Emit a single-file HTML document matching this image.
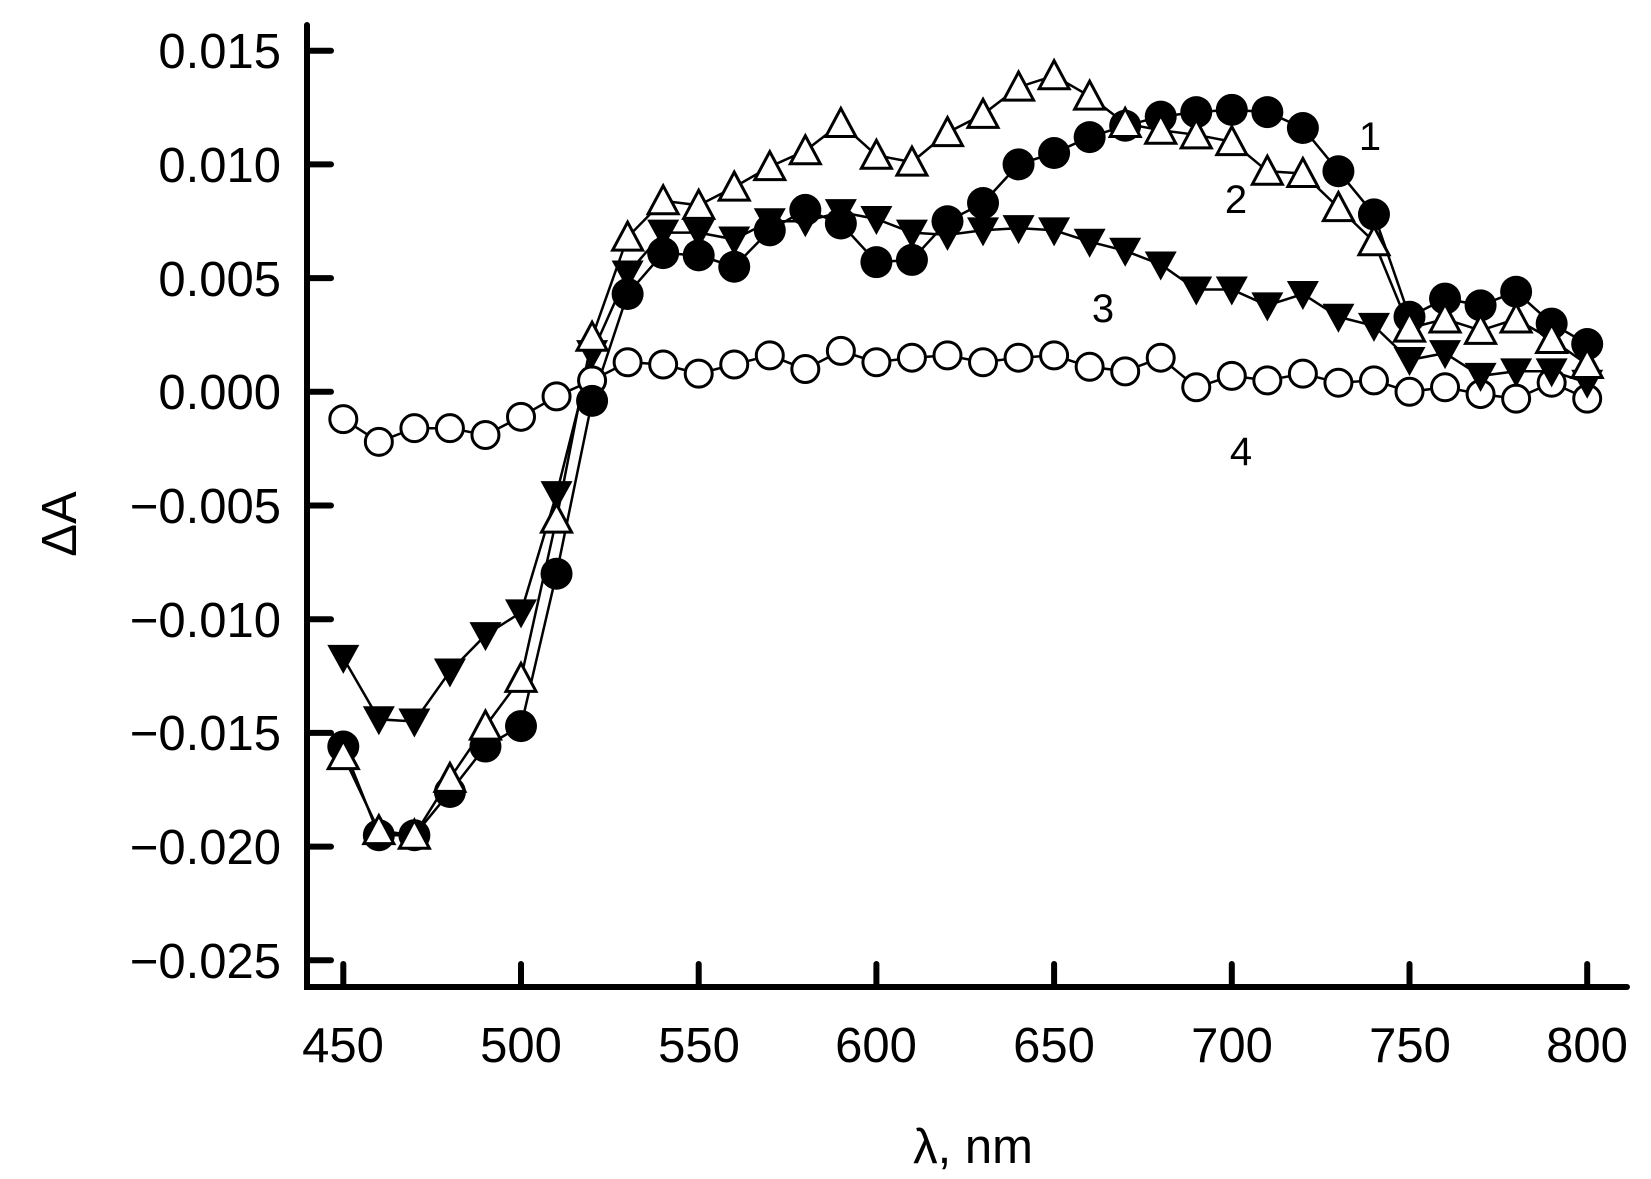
<!DOCTYPE html>
<html><head><meta charset="utf-8"><style>
html,body{margin:0;padding:0;background:#fff;}
svg{display:block;font-family:"Liberation Sans",Arial,sans-serif;}
</style></head><body>
<svg id="c" width="1651" height="1179" viewBox="0 0 1651 1179" xmlns="http://www.w3.org/2000/svg">
<rect width="1651" height="1179" fill="#fff"/>
<g stroke="#000" stroke-width="6" stroke-linecap="round" fill="none">
<path d="M307 25 V987 H1627"/>
<path d="M307 50.7 H331 M307 164.4 H331 M307 278.1 H331 M307 391.8 H331 M307 505.5 H331 M307 619.2 H331 M307 732.9 H331 M307 846.6 H331 M307 960.3 H331"/>
<path d="M343.3 987 V964 M521 987 V964 M698.7 987 V964 M876.4 987 V964 M1054.1 987 V964 M1231.8 987 V964 M1409.5 987 V964 M1587.2 987 V964"/>
</g>
<g font-size="49" text-anchor="end" fill="#000">
<text x="281" y="68">0.015</text>
<text x="281" y="182">0.010</text>
<text x="281" y="296">0.005</text>
<text x="281" y="409">0.000</text>
<text x="281" y="523">−0.005</text>
<text x="281" y="637">−0.010</text>
<text x="281" y="750">−0.015</text>
<text x="281" y="864">−0.020</text>
<text x="281" y="978">−0.025</text>
</g>
<g font-size="49" text-anchor="middle" fill="#000">
<text x="343" y="1062">450</text>
<text x="521" y="1062">500</text>
<text x="699" y="1062">550</text>
<text x="876" y="1062">600</text>
<text x="1054" y="1062">650</text>
<text x="1232" y="1062">700</text>
<text x="1410" y="1062">750</text>
<text x="1587" y="1062">800</text>
<text x="973" y="1163">λ, nm</text>
<text transform="translate(76,524) rotate(-90)">ΔA</text>
</g>
<g font-size="40" text-anchor="middle" fill="#000">
<text x="1370" y="150">1</text>
<text x="1236" y="213">2</text>
<text x="1103" y="322">3</text>
<text x="1241" y="465">4</text>
</g>
<g id="data"></g>
</svg>
<script>
var s1=[-0.0156,-0.0195,-0.0195,-0.0176,-0.0156,-0.0147,-0.0080,-0.0004,0.0043,0.0061,0.0060,0.0055,0.0071,0.0080,0.0074,0.0057,0.0058,0.0075,0.0083,0.0100,0.0105,0.0112,0.0117,0.0121,0.0123,0.0124,0.0123,0.0116,0.0097,0.0078,0.0033,0.0041,0.0038,0.0044,0.0030,0.0021];
var s2=[-0.0160,-0.0193,-0.0195,-0.0170,-0.0147,-0.0126,-0.0056,0.0024,0.0068,0.0084,0.0082,0.0090,0.0099,0.0106,0.0118,0.0104,0.0101,0.0114,0.0122,0.0134,0.0139,0.0130,0.0118,0.0115,0.0113,0.0110,0.0097,0.0096,0.0081,0.0066,0.0028,0.0032,0.0027,0.0032,0.0023,0.0012];
var s3=[-0.0117,-0.0144,-0.0145,-0.0123,-0.0107,-0.0097,-0.0045,0.0017,0.0052,0.0070,0.0070,0.0067,0.0075,0.0075,0.0079,0.0076,0.0070,0.0069,0.0071,0.0072,0.0071,0.0066,0.0062,0.0056,0.0045,0.0045,0.0038,0.0043,0.0033,0.0029,0.0014,0.0017,0.0007,0.0009,0.0009,0.0004];
var s4=[-0.0012,-0.0022,-0.0016,-0.0016,-0.0019,-0.0011,-0.0002,0.0005,0.0013,0.0012,0.0008,0.0012,0.0016,0.0010,0.0018,0.0013,0.0015,0.0016,0.0013,0.0015,0.0016,0.0011,0.0009,0.0015,0.0002,0.0007,0.0005,0.0008,0.0004,0.0005,0.0000,0.0002,-0.0001,-0.0003,0.0004,-0.0003];
function X(i){return 343.3+i*10*177.7/50;}
function Y(v){return 50.7+(0.015-v)/0.005*113.7;}
var h='';
function line(s){var d='';s.forEach(function(v,i){d+=(i?'L':'M')+X(i).toFixed(1)+' '+Y(v).toFixed(1);});h+='<path d="'+d+'" fill="none" stroke="#000" stroke-width="2.5"/>';}
[s1,s2,s3,s4].forEach(line);
s4.forEach(function(v,i){h+='<circle cx="'+X(i)+'" cy="'+Y(v)+'" r="13.5" fill="#fff" stroke="#000" stroke-width="3"/>';});
s3.forEach(function(v,i){var x=X(i),y=Y(v);h+='<path d="M'+(x-16)+' '+(y-13)+'H'+(x+16)+'L'+x+' '+(y+16)+'Z" fill="#000"/>';});
s1.forEach(function(v,i){h+='<circle cx="'+X(i)+'" cy="'+Y(v)+'" r="16" fill="#000"/>';});
s2.forEach(function(v,i){var x=X(i),y=Y(v);h+='<path d="M'+x+' '+(y-15)+'L'+(x+15)+' '+(y+13)+'H'+(x-15)+'Z" fill="#fff" stroke="#000" stroke-width="3"/>';});
document.getElementById('data').innerHTML=h;
</script>
</body></html>
